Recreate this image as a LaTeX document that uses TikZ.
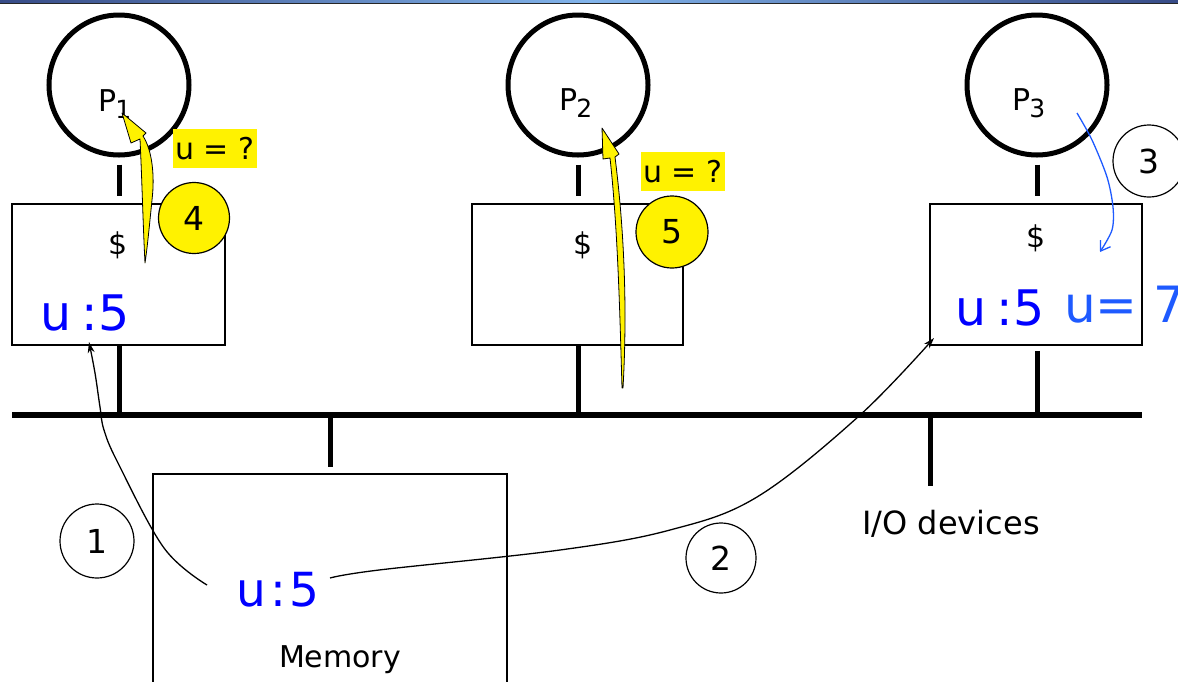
\documentclass[tikz,border=0pt]{standalone}
\usepackage{fontspec}
\setmainfont{DejaVu Sans}
\usetikzlibrary{arrows.meta,calc}
\definecolor{ublue}{RGB}{0,0,255}
\definecolor{lblue}{RGB}{30,90,255}
\definecolor{topdark}{RGB}{55,75,135}
\definecolor{toplight}{RGB}{130,180,235}
\newcommand{\fsz}[1]{\fontsize{#1}{#1}\selectfont}
\begin{document}
\begin{tikzpicture}[x=1pt,y=-1pt,
  proc/.style={circle,draw,line width=5pt,minimum size=140pt,inner sep=0pt},
  cache/.style={rectangle,draw,line width=1.5pt,inner sep=0pt},
  stub/.style={line width=5pt},
  num/.style={circle,draw,line width=1.2pt,inner sep=0pt,font=\fsz{33}},
  ynum/.style={num,fill=yellow},
  conn/.style={line width=1.3pt,-{Stealth[length=11pt,width=7pt]}},
  yarrow/.style={fill=yellow,draw=black,line width=0.8pt,line join=round},
  qlabel/.style={fill=yellow,inner sep=0pt,minimum width=84pt,minimum height=39pt,font=\fsz{30}},
  val/.style={text=ublue,inner sep=0pt,anchor=base west},
  txt/.style={inner sep=0pt}]
\useasboundingbox (0,0) rectangle (1178,681);
\clip (0,0) rectangle (1178,681);
% top band
\shade[left color=topdark,right color=topdark,middle color=toplight] (0,0) rectangle (1178,2.6);
\fill[black!85] (0,2.6) rectangle (1178,3.7);
% processors
\node[proc] (P1) at (119,85) {};
\node[proc] (P2) at (578,85) {};
\node[proc] (P3) at (1037,85) {};
\node[txt,anchor=base west,font=\fsz{30}] (L1) at (98,111) {P\kern-1pt\raisebox{-7pt}{\fsz{25}1}};
\node[txt,anchor=base west,font=\fsz{30}] (L2) at (559,110) {P\kern-1pt\raisebox{-7pt}{\fsz{25}2}};
\node[txt,anchor=base west,font=\fsz{30}] (L3) at (1012,110) {P\kern-1pt\raisebox{-7pt}{\fsz{25}3}};
% caches
\node[cache,minimum width=213pt,minimum height=141pt] (B1) at (118.5,274.5) {};
\node[cache,minimum width=211pt,minimum height=141pt] (B2) at (577.5,274.5) {};
\node[cache,minimum width=212pt,minimum height=141pt] (B3) at (1036,274.5) {};
\node[txt,font=\fsz{30}] (d1) at (118,245) {\$};
\node[txt,font=\fsz{30}] (d2) at (583,245) {\$};
\node[txt,font=\fsz{30}] (d3) at (1036,238) {\$};
% stubs processor-cache
\draw[stub,shorten <=7pt,shorten >=7pt] (P1.south) -- (P1.south |- B1.north);
\draw[stub,shorten <=7pt,shorten >=7pt] (P2.south) -- (P2.south |- B2.north);
\draw[stub,shorten <=7pt,shorten >=7pt] (P3.south) -- (P3.south |- B3.north);
% bus
\coordinate (busL) at (12,415);
\coordinate (busR) at (1142,415);
\draw[line width=6pt] (busL) -- (busR);
\draw[stub] (P1 |- B1.south) -- (P1 |- busL);
\draw[stub] (P2 |- B2.south) -- (P2 |- busL);
\draw[stub,shorten <=5pt] (P3 |- B3.south) -- (P3 |- busL);
% memory
\node[cache,minimum width=354pt,minimum height=240pt,anchor=north] (M) at (330,473) {};
\draw[stub,shorten >=6pt] (M.north |- busL) -- (M.north);
\node[txt,font=\fsz{30},anchor=base] (Mt) at (340,667) {Memory};
% I/O
\coordinate (IO) at (930,486);
\draw[stub] (IO |- busL) -- (IO);
\node[txt,font=\fsz{32},anchor=base] (IOt) at (951,534) {I/O devices};
% values
\node[val,font=\fsz{49}] (v1) at (40.5,330) {u\kern10pt:5};
\node[val,font=\fsz{49}] (v3) at (955.5,325) {u\kern10pt:5};
\node[val,font=\fsz{47}] (mu) at (236,606) {u\kern5pt:\kern3pt5};
\node[val,text=lblue,font=\fsz{50}] (v3b) at (1064,322) {u= 7};
% connectors
\draw[conn] plot[smooth,tension=0.6] coordinates {(207,585) (164,548) (118,463) (104,430) (100,407) (95,373) (89,342)};
\draw[conn] plot[smooth,tension=0.6] coordinates {(330,578) (379,570) (560,550) (670,530) (757,497) (859,416) (934,338)};
\draw[line width=1.3pt,lblue,-{Straight Barb[length=9pt,width=12pt]}] plot[smooth] coordinates {(1077,113) (1092,140) (1107,177) (1113,207) (1112,230) (1100,252)};
% yellow arrows
\filldraw[yarrow] (145,263) .. controls (143,225) and (142,180) .. (140,139) -- (131,143) -- (122,113) -- (146,133) -- (143,136) .. controls (152,150) and (155,175) .. (152,200) .. controls (149,230) and (147,250) .. (145,263) -- cycle;
\filldraw[yarrow] (622,388) .. controls (620,320) and (618,230) .. (610,158) -- (603,159) -- (602,128) -- (619,154) -- (615,157) .. controls (623,220) and (628,300) .. (623,388) -- cycle;
% labels
\node[qlabel] (q1) at (215,148.5) {u = ?};
\node[qlabel] (q2) at (683,171.5) {u = ?};
% step numbers
\node[num,minimum size=74pt] (n1) at (97,541) {1};
\node[num,minimum size=70pt] (n2) at (721,558) {2};
\node[num,minimum size=72pt] (n3) at (1149,161) {3};
\node[ynum,minimum size=71pt] (n4) at (194,218) {4};
\node[ynum,minimum size=72pt] (n5) at (672,232) {5};
\end{tikzpicture}
\end{document}
